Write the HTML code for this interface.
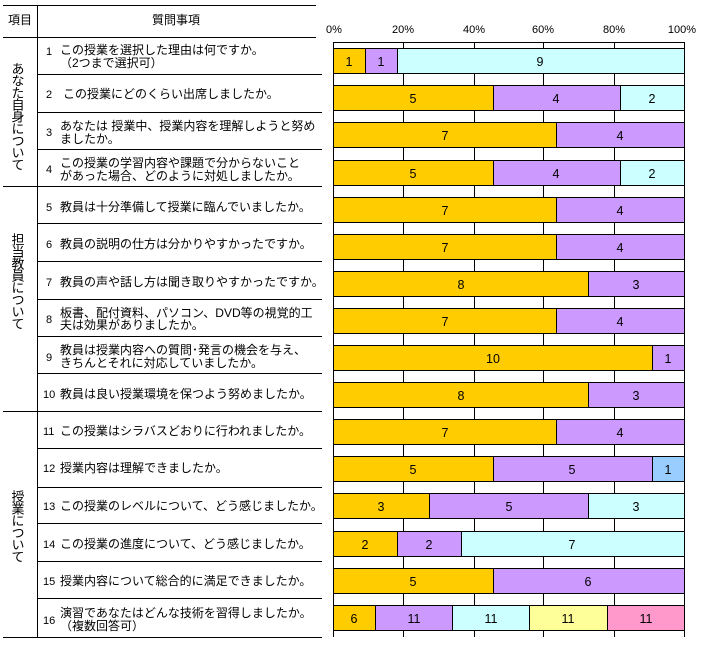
<!DOCTYPE html>
<html><head><meta charset="utf-8"><style>
html,body{margin:0;padding:0;background:#fff;}
svg{display:block;font-family:"Liberation Sans","Noto Sans CJK JP",sans-serif;}
.q{font-size:12px;fill:#000;}
.n{font-size:11px;}
.ax{font-size:11px;}
.v{font-size:12.5px;text-anchor:middle;}
.O{fill:#FFCC00}.P{fill:#CC99FF}.C{fill:#CCFFFF}.B{fill:#99CCFF}.Y{fill:#FFFF99}.K{fill:#FF99CC}
rect{stroke:#000;stroke-width:1;}
</style></head><body>
<svg width="701" height="654" viewBox="0 0 701 654" xmlns="http://www.w3.org/2000/svg">
<g stroke="#000" stroke-width="1" shape-rendering="crispEdges">
<line x1="3" y1="5.5" x2="316" y2="5.5"/>
<line x1="37.5" y1="5" x2="37.5" y2="638"/>
<line x1="3" y1="37.5" x2="316" y2="37.5"/>
<line x1="37" y1="74.5" x2="322" y2="74.5"/>
<line x1="37" y1="112.5" x2="322" y2="112.5"/>
<line x1="37" y1="149.5" x2="322" y2="149.5"/>
<line x1="3" y1="186.5" x2="322" y2="186.5"/>
<line x1="37" y1="223.5" x2="322" y2="223.5"/>
<line x1="37" y1="261.5" x2="322" y2="261.5"/>
<line x1="37" y1="299.5" x2="322" y2="299.5"/>
<line x1="37" y1="336.5" x2="322" y2="336.5"/>
<line x1="37" y1="373.5" x2="322" y2="373.5"/>
<line x1="3" y1="411.5" x2="322" y2="411.5"/>
<line x1="37" y1="448.5" x2="322" y2="448.5"/>
<line x1="37" y1="487.5" x2="322" y2="487.5"/>
<line x1="37" y1="523.5" x2="322" y2="523.5"/>
<line x1="37" y1="561.5" x2="322" y2="561.5"/>
<line x1="37" y1="598.5" x2="322" y2="598.5"/>
<line x1="3" y1="637.5" x2="322" y2="637.5"/>
<line x1="333" y1="42.5" x2="684" y2="42.5"/>
<line x1="333.5" y1="42" x2="333.5" y2="637"/>
<line x1="403.5" y1="42" x2="403.5" y2="637"/>
<line x1="474.5" y1="42" x2="474.5" y2="637"/>
<line x1="543.5" y1="42" x2="543.5" y2="637"/>
<line x1="614.5" y1="42" x2="614.5" y2="637"/>
<line x1="684.5" y1="42" x2="684.5" y2="637"/>
</g>
<g class="q">
<text x="8" y="24">項目</text>
<text x="176" y="24" text-anchor="middle">質問事項</text>
<text x="17" y="62" style="writing-mode:vertical-rl;font-size:13px;letter-spacing:-1px">あなた自身について</text>
<text x="17" y="233" style="writing-mode:vertical-rl;font-size:13px;letter-spacing:-1px">担当教員について</text>
<text x="17" y="490" style="writing-mode:vertical-rl;font-size:13px;letter-spacing:-1px">授業について</text>

<text x="46" y="55" class="n">1</text><text x="60" y="54">この授業を選択した理由は何ですか。</text><text x="60" y="67">（2つまで選択可）</text>
<text x="46" y="98" class="n">2</text><text x="63" y="98">この授業にどのくらい出席しましたか。</text>
<text x="46" y="136" class="n">3</text><text x="60" y="130">あなたは 授業中、授業内容を理解しようと努め</text><text x="60" y="143">ましたか。</text>
<text x="46" y="173" class="n">4</text><text x="60" y="167">この授業の学習内容や課題で分からないこと</text><text x="60" y="180">があった場合、どのように対処しましたか。</text>
<text x="46" y="211" class="n">5</text><text x="60" y="211">教員は十分準備して授業に臨んでいましたか。</text>
<text x="46" y="248" class="n">6</text><text x="60" y="248">教員の説明の仕方は分かりやすかったですか。</text>
<text x="46" y="286" class="n">7</text><text x="60" y="286">教員の声や話し方は聞き取りやすかったですか。</text>
<text x="46" y="323" class="n">8</text><text x="60" y="317">板書、配付資料、パソコン、DVD等の視覚的工</text><text x="60" y="329">夫は効果がありましたか。</text>
<text x="46" y="361" class="n">9</text><text x="60" y="354">教員は授業内容への質問･発言の機会を与え、</text><text x="60" y="367">きちんとそれに対応していましたか。</text>
<text x="43" y="398" class="n">10</text><text x="60" y="398">教員は良い授業環境を保つよう努めましたか。</text>
<text x="43" y="435" class="n">11</text><text x="60" y="435">この授業はシラバスどおりに行われましたか。</text>
<text x="43" y="472" class="n">12</text><text x="60" y="472">授業内容は理解できましたか。</text>
<text x="43" y="510" class="n">13</text><text x="60" y="510">この授業のレベルについて、どう感じましたか。</text>
<text x="43" y="548" class="n">14</text><text x="60" y="548">この授業の進度について、どう感じましたか。</text>
<text x="43" y="585" class="n">15</text><text x="60" y="585">授業内容について総合的に満足できましたか。</text>
<text x="43" y="624" class="n">16</text><text x="60" y="617">演習であなたはどんな技術を習得しましたか。</text><text x="60" y="630">（複数回答可）</text>
</g>
<g class="ax">
<text x="334" y="33" text-anchor="middle">0%</text>
<text x="403" y="33" text-anchor="middle">20%</text>
<text x="474" y="33" text-anchor="middle">40%</text>
<text x="543" y="33" text-anchor="middle">60%</text>
<text x="614" y="33" text-anchor="middle">80%</text>
<text x="682" y="33" text-anchor="middle">100%</text>
</g>
<g shape-rendering="crispEdges">
<rect class="O" x="333.5" y="48.5" width="32" height="25"/><rect class="P" x="365.5" y="48.5" width="32" height="25"/><rect class="C" x="397.5" y="48.5" width="287" height="25"/>
<rect class="O" x="333.5" y="85.5" width="160" height="25"/><rect class="P" x="493.5" y="85.5" width="127" height="25"/><rect class="C" x="620.5" y="85.5" width="64" height="25"/>
<rect class="O" x="333.5" y="122.5" width="223" height="25"/><rect class="P" x="556.5" y="122.5" width="128" height="25"/>
<rect class="O" x="333.5" y="160.5" width="160" height="25"/><rect class="P" x="493.5" y="160.5" width="127" height="25"/><rect class="C" x="620.5" y="160.5" width="64" height="25"/>
<rect class="O" x="333.5" y="197.5" width="223" height="25"/><rect class="P" x="556.5" y="197.5" width="128" height="25"/>
<rect class="O" x="333.5" y="234.5" width="223" height="25"/><rect class="P" x="556.5" y="234.5" width="128" height="25"/>
<rect class="O" x="333.5" y="271.5" width="255" height="25"/><rect class="P" x="588.5" y="271.5" width="96" height="25"/>
<rect class="O" x="333.5" y="308.5" width="223" height="25"/><rect class="P" x="556.5" y="308.5" width="128" height="25"/>
<rect class="O" x="333.5" y="345.5" width="319" height="25"/><rect class="P" x="652.5" y="345.5" width="32" height="25"/>
<rect class="O" x="333.5" y="382.5" width="255" height="25"/><rect class="P" x="588.5" y="382.5" width="96" height="25"/>
<rect class="O" x="333.5" y="419.5" width="223" height="25"/><rect class="P" x="556.5" y="419.5" width="128" height="25"/>
<rect class="O" x="333.5" y="456.5" width="160" height="25"/><rect class="P" x="493.5" y="456.5" width="159" height="25"/><rect class="B" x="652.5" y="456.5" width="32" height="25"/>
<rect class="O" x="333.5" y="493.5" width="96" height="25"/><rect class="P" x="429.5" y="493.5" width="159" height="25"/><rect class="C" x="588.5" y="493.5" width="96" height="25"/>
<rect class="O" x="333.5" y="531.5" width="64" height="25"/><rect class="P" x="397.5" y="531.5" width="64" height="25"/><rect class="C" x="461.5" y="531.5" width="223" height="25"/>
<rect class="O" x="333.5" y="568.5" width="160" height="25"/><rect class="P" x="493.5" y="568.5" width="191" height="25"/>
<rect class="O" x="333.5" y="605.5" width="42" height="25"/><rect class="P" x="375.5" y="605.5" width="77" height="25"/><rect class="C" x="452.5" y="605.5" width="77" height="25"/><rect class="Y" x="529.5" y="605.5" width="78" height="25"/><rect class="K" x="607.5" y="605.5" width="77" height="25"/>
</g>
<g class="v">
<text x="349" y="66">1</text><text x="381" y="66">1</text><text x="540" y="66">9</text>
<text x="413" y="103">5</text><text x="556" y="103">4</text><text x="652" y="103">2</text>
<text x="445" y="140">7</text><text x="620" y="140">4</text>
<text x="413" y="178">5</text><text x="556" y="178">4</text><text x="652" y="178">2</text>
<text x="445" y="215">7</text><text x="620" y="215">4</text>
<text x="445" y="252">7</text><text x="620" y="252">4</text>
<text x="461" y="289">8</text><text x="636" y="289">3</text>
<text x="445" y="326">7</text><text x="620" y="326">4</text>
<text x="493" y="363">10</text><text x="668" y="363">1</text>
<text x="461" y="400">8</text><text x="636" y="400">3</text>
<text x="445" y="437">7</text><text x="620" y="437">4</text>
<text x="413" y="474">5</text><text x="572" y="474">5</text><text x="668" y="474">1</text>
<text x="381" y="511">3</text><text x="509" y="511">5</text><text x="636" y="511">3</text>
<text x="365" y="549">2</text><text x="429" y="549">2</text><text x="572" y="549">7</text>
<text x="413" y="586">5</text><text x="588" y="586">6</text>
<text x="354" y="623">6</text><text x="414" y="623">11</text><text x="491" y="623">11</text><text x="568" y="623">11</text><text x="646" y="623">11</text>
</g>
</svg>
</body></html>
